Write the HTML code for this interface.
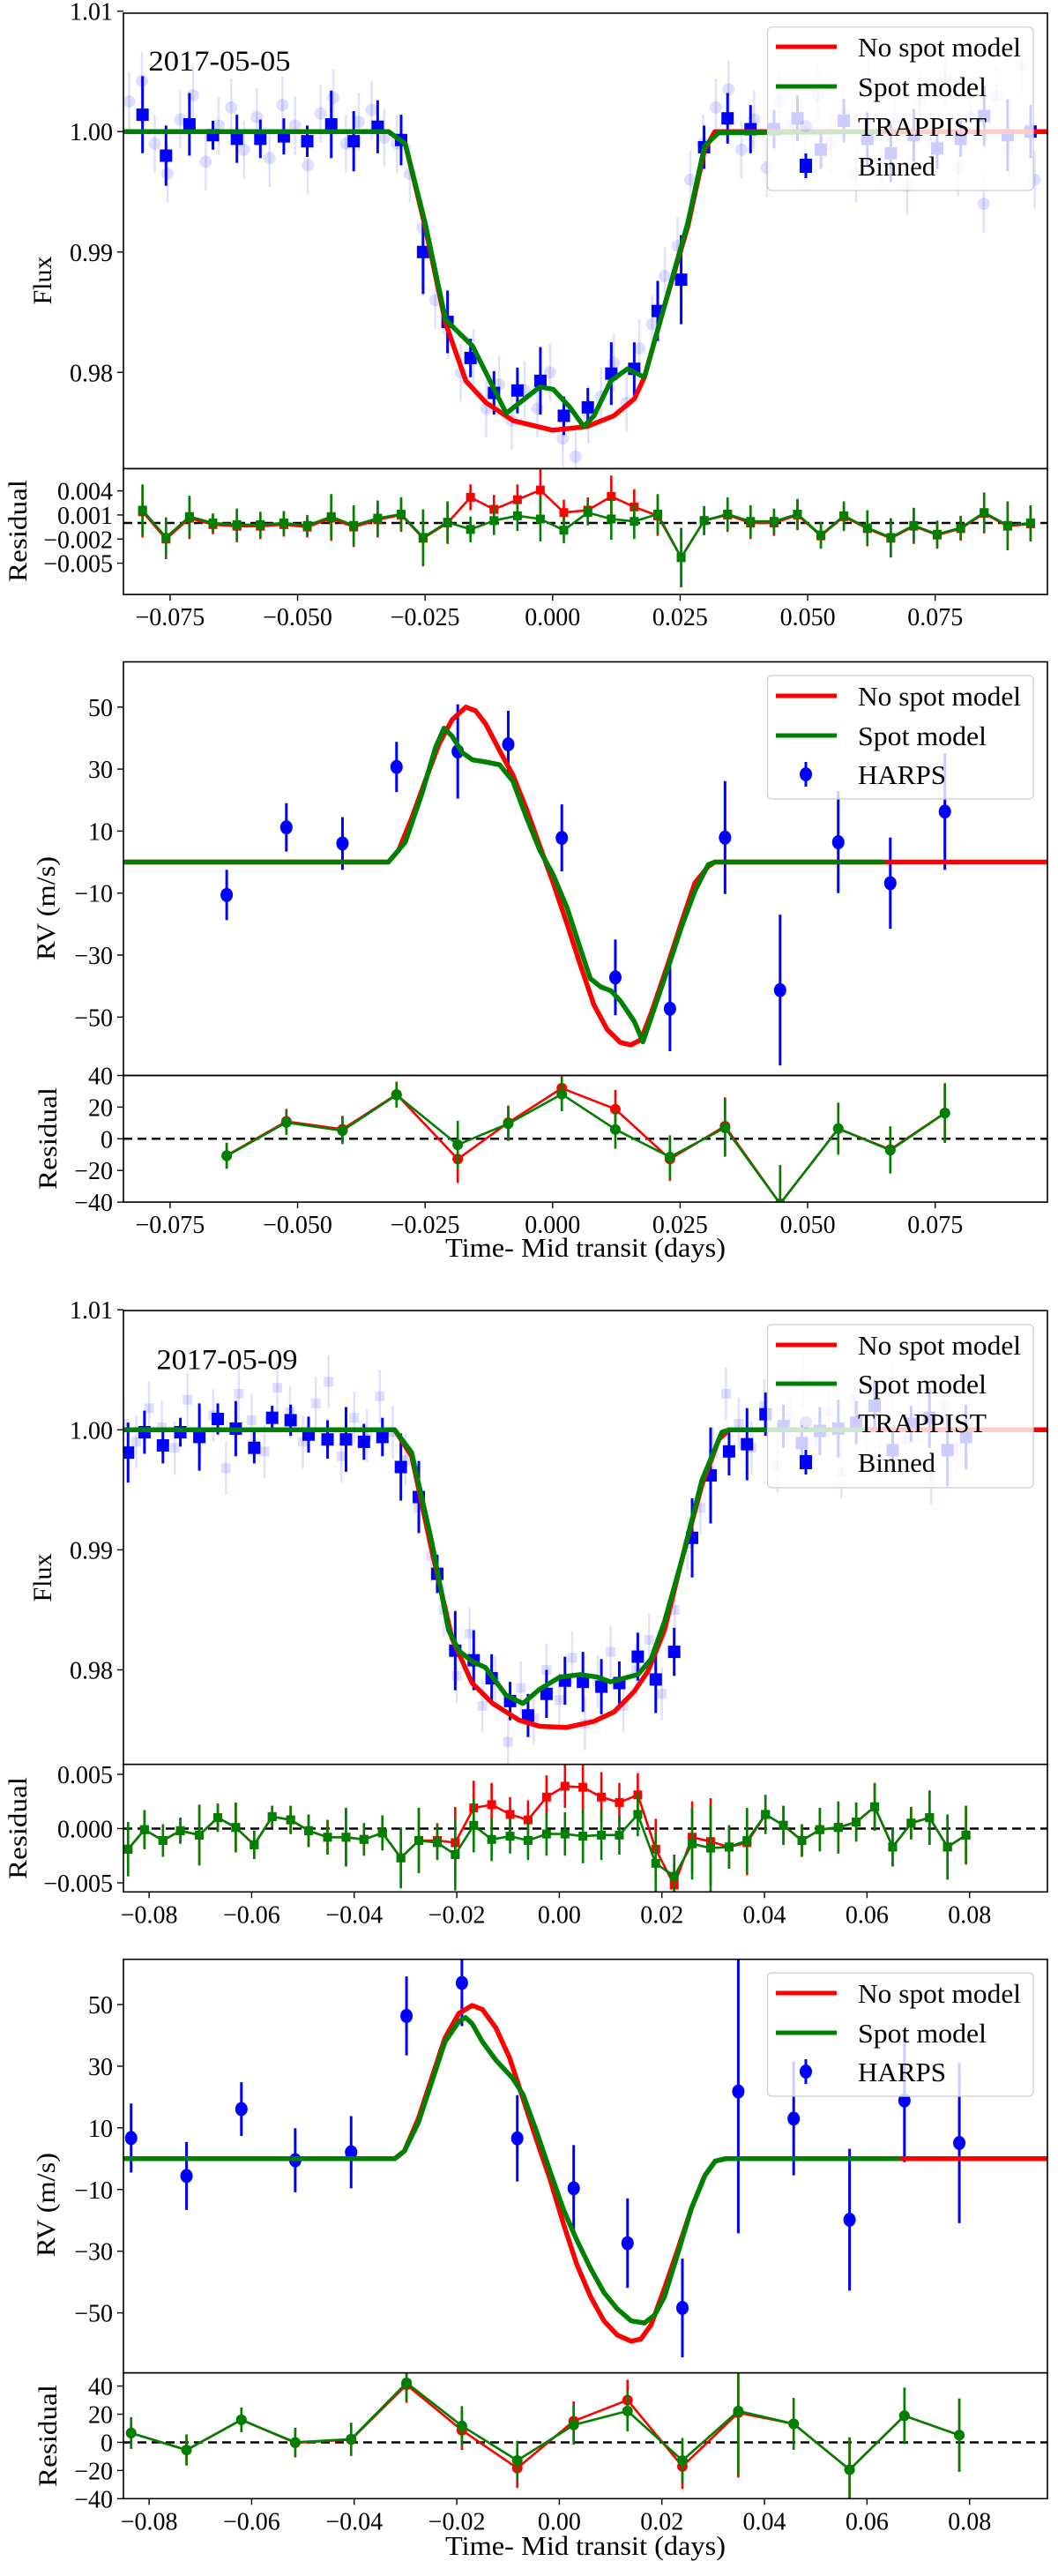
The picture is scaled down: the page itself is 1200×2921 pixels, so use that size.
<!DOCTYPE html>
<html><head><meta charset="utf-8"><title>Spot model fits</title>
<style>
html,body{margin:0;padding:0;background:#fff;}
svg{display:block;font-family:"Liberation Serif","DejaVu Serif",serif;}
</style></head>
<body>
<svg id="fig" xmlns="http://www.w3.org/2000/svg" width="1200" height="2921" viewBox="0 0 1200 2921"></svg>
<script>
// ---------- Panel 1: 2017-05-05 photometry ----------
const p1BinT = [-0.0804,-0.0758,-0.0712,-0.0666,-0.0619,-0.0573,-0.0527,-0.0481,-0.0434,-0.0390,-0.0343,-0.0297,-0.0254,-0.0206,-0.0161,-0.0115,-0.0069,-0.0024,0.0022,0.0069,0.0115,0.0160,0.0206,0.0252,0.0297,0.0343,0.0388,0.0434,0.0480,0.0526,0.0571,0.0617,0.0663,0.0708,0.0754,0.0800,0.0846,0.0892,0.0937];
const p1BinF = [1.0014,0.9980,1.0006,0.9997,0.9994,0.9994,0.9996,0.9992,1.0006,0.9992,1.0004,0.9993,0.9900,0.9842,0.9812,0.9783,0.9785,0.9793,0.9764,0.9771,0.9799,0.9803,0.9851,0.9877,0.9987,1.0011,1.0002,1.0002,1.0011,0.9985,1.0009,0.9994,0.9982,0.9997,0.9986,0.9994,1.0013,0.9997,1.0000];
const p1BinE = [0.0032,0.0025,0.0026,0.0012,0.0020,0.0016,0.0015,0.0013,0.0028,0.0025,0.0022,0.0021,0.0035,0.0026,0.0016,0.0018,0.0019,0.0028,0.0016,0.0016,0.0026,0.0022,0.0025,0.0037,0.0018,0.0021,0.0020,0.0016,0.0019,0.0016,0.0018,0.0022,0.0024,0.0022,0.0017,0.0015,0.0025,0.0030,0.0022];
const p1ResG = [0.0016,-0.0018,0.0008,0.0,-0.0002,-0.0002,0.0,-0.0003,0.0008,-0.0003,0.0006,0.0011,-0.0018,0.0001,-0.0008,0.0003,0.0009,0.0005,-0.0009,0.0013,0.0005,0.0002,0.0011,-0.0043,0.0003,0.0011,0.0002,0.0002,0.0011,-0.0015,0.0009,-0.0006,-0.0018,-0.0003,-0.0014,-0.0006,0.0013,-0.0003,0.0];
const p1ResR = [0.0014,-0.0020,0.0006,-0.0002,-0.0004,-0.0004,-0.0002,-0.0005,0.0006,-0.0005,0.0004,0.0010,-0.0019,0.0000,0.0032,0.0017,0.0029,0.0041,0.0013,0.0016,0.0033,0.0020,0.0009,-0.0043,0.0003,0.0010,0.0000,0.0000,0.0010,-0.0016,0.0008,-0.0007,-0.0019,-0.0004,-0.0015,-0.0007,0.0012,-0.0004,-0.0001];
const p1RawT0 = -0.083, p1RawDt = 0.0025;
const p1RawF = [1.0025,1.0042,0.9990,0.9965,1.0010,1.0030,0.9975,1.0005,1.0020,0.9985,1.0012,0.9978,1.0022,1.0005,0.9972,1.0015,1.0028,0.9990,1.0008,1.0018,0.9995,
 0.9990,0.9965,0.9920,0.9860,0.9835,0.9800,0.9812,0.9770,0.9790,0.9760,0.9785,0.9770,0.9800,0.9745,0.9730,0.9765,0.9780,0.9808,0.9775,0.9820,0.9840,0.9880,0.9905,0.9960,0.9990,1.0020,
 1.0035,0.9985,1.0010,0.9970,1.0025,1.0005,0.9980,1.0030,0.9990,1.0015,0.9965,1.0040,0.9975,1.0010,0.9955,1.0025,0.9990,1.0045,0.9970,1.0012,0.9940,1.0030,0.9985,1.0055,0.9960];
const p1NoSpotT = [-0.0838,-0.0322,-0.0289,-0.0250,-0.0210,-0.0170,-0.0131,-0.0078,0.0,0.0067,0.0120,0.0160,0.0180,0.0219,0.0265,0.0298,0.0318,0.0968];
const p1NoSpotF = [1.0,1.0,0.9990,0.9921,0.9841,0.9793,0.9775,0.9760,0.9752,0.9755,0.9764,0.9778,0.9796,0.9855,0.9921,0.9985,1.0,1.0];
const p1SpotT = [-0.0838,-0.0322,-0.0289,-0.0250,-0.0210,-0.0184,-0.0157,-0.0131,-0.0091,-0.0058,-0.0025,0.0001,0.0034,0.0061,0.0081,0.0114,0.0147,0.0180,0.0219,0.0265,0.0298,0.0325,0.0635];
const p1SpotF = [1.0,1.0,0.9990,0.9924,0.9844,0.9833,0.9822,0.9800,0.9766,0.9777,0.9788,0.9786,0.9771,0.9755,0.9764,0.9793,0.9803,0.9796,0.9855,0.9924,0.9988,0.9999,1.0];

// ---------- Panel 2: 2017-05-05 RV ----------
const p2T = [-0.0639,-0.0522,-0.0412,-0.0306,-0.0186,-0.0087,0.0018,0.0123,0.0230,0.0338,0.0446,0.0560,0.0662,0.0769];
const p2V = [-10.6,11.2,6.0,30.7,35.7,38.0,7.8,-37.2,-47.3,7.9,-41.3,6.4,-6.8,16.3];
const p2E = [8.1,7.8,8.5,8.1,15.2,10.8,10.8,12.2,13.7,18.2,24.3,16.4,14.7,18.8];
const p2ResG = [-10.8,10.3,5.1,27.7,-3.8,9.5,28.2,5.9,-11.5,6.9,-41,6.4,-7.2,16.2];
const p2ResR = [-10.6,11.0,6.0,28.0,-12.8,10.2,32.0,18.7,-12.8,8.0,-41,6.4,-6.8,16.3];
const p2NoSpotT = [-0.0838,-0.0322,-0.0302,-0.0276,-0.0250,-0.0223,-0.0197,-0.0170,-0.0151,-0.0131,-0.0104,-0.0078,-0.0051,-0.0025,0.0001,0.0028,0.0054,0.0081,0.0107,0.0133,0.0153,0.0173,0.0193,0.0226,0.0252,0.0279,0.0305,0.0318,0.0968];
const p2NoSpotV = [0,0,3.8,14.3,26.1,38.0,45.9,50.0,48.8,44.5,36.0,28.1,17.0,5.1,-6.7,-19.8,-33.0,-46.1,-54.0,-58.2,-59.0,-57.3,-48.8,-33.0,-19.8,-6.7,-1.4,0,0];
const p2SpotT = [-0.0838,-0.0322,-0.0289,-0.0256,-0.0230,-0.0213,-0.0197,-0.0177,-0.0157,-0.0131,-0.0104,-0.0078,-0.0051,-0.0025,0.0001,0.0028,0.0054,0.0074,0.0094,0.0114,0.0133,0.0160,0.0177,0.0199,0.0226,0.0252,0.0279,0.0305,0.0318,0.0648];
const p2SpotV = [0,0,6.4,22.2,36.7,43.2,40.6,35.3,33.0,32.3,31.4,26.1,14.3,3.8,-4.1,-14.6,-27.7,-37.6,-40.2,-41.5,-44.8,-51.4,-58.0,-47.4,-34.3,-21.2,-9.3,-0.8,0,0];

// ---------- Panel 3: 2017-05-09 photometry ----------
const p3BinT = [-0.0841,-0.0809,-0.0773,-0.0739,-0.0702,-0.0666,-0.0631,-0.0595,-0.0560,-0.0524,-0.0489,-0.0452,-0.0416,-0.0381,-0.0345,-0.0309,-0.0274,-0.0238,-0.0203,-0.0167,-0.0132,-0.0096,-0.0061,-0.0025,0.0011,0.0046,0.0082,0.0117,0.0153,0.0188,0.0224,0.0259,0.0295,0.0331,0.0366,0.0402,0.0437,0.0473,0.0508,0.0544,0.0579,0.0615,0.0650,0.0686,0.0722,0.0757,0.0793];
const p3BinF = [0.9981,0.9998,0.9987,0.9998,0.9994,1.0009,1.0001,0.9985,1.0010,1.0008,0.9996,0.9992,0.9992,0.9990,0.9994,0.9969,0.9944,0.9880,0.9816,0.9808,0.9793,0.9774,0.9762,0.9780,0.9791,0.9790,0.9786,0.9789,0.9811,0.9792,0.9815,0.9910,0.9962,0.9982,0.9988,1.0013,1.0003,0.9989,0.9999,1.0001,1.0006,1.0020,0.9983,1.0005,1.0010,0.9983,0.9994];
const p3BinE = [0.0025,0.0018,0.0015,0.0012,0.0028,0.0013,0.0023,0.0013,0.0010,0.0013,0.0015,0.0016,0.0027,0.0015,0.0016,0.0028,0.0030,0.0016,0.0033,0.0025,0.0020,0.0016,0.0018,0.0020,0.0020,0.0025,0.0023,0.0018,0.0020,0.0028,0.0020,0.0033,0.0040,0.0020,0.0030,0.0018,0.0018,0.0015,0.0020,0.0024,0.0018,0.0022,0.0018,0.0015,0.0025,0.0030,0.0027];
const p3ResG = [-0.0019,-0.0001,-0.0011,-0.0002,-0.0006,0.0010,0.0001,-0.0015,0.0011,0.0008,-0.0002,-0.0008,-0.0008,-0.0010,-0.0004,-0.0027,-0.0011,-0.0013,-0.0024,0.0003,-0.0010,-0.0007,-0.0011,-0.0005,-0.0005,-0.0007,-0.0006,-0.0006,0.0013,-0.0032,-0.0044,-0.0014,-0.0018,-0.0017,-0.0011,0.0013,0.0003,-0.0011,-0.0001,0.0001,0.0006,0.0020,-0.0017,0.0005,0.0010,-0.0017,-0.0006];
const p3ResR = [-0.0019,-0.0001,-0.0011,-0.0002,-0.0006,0.0010,0.0001,-0.0015,0.0011,0.0008,-0.0002,-0.0008,-0.0008,-0.0010,-0.0004,-0.0027,-0.0011,-0.0011,-0.0013,0.0019,0.0022,0.0013,0.0008,0.0029,0.0039,0.0038,0.0029,0.0024,0.0031,-0.0019,-0.0052,-0.0008,-0.0012,-0.0017,-0.0013,0.0013,0.0003,-0.0011,-0.0001,0.0001,0.0006,0.0020,-0.0017,0.0005,0.0010,-0.0017,-0.0006];
const p3RawT0 = -0.085, p3RawDt = 0.0025;
const p3RawF = [1.0005,0.9990,1.0018,1.0002,0.9985,1.0025,0.9995,1.0012,0.9968,1.0030,1.0008,0.9982,1.0035,1.0015,0.9990,1.0022,1.0040,0.9978,1.0010,0.9995,1.0028,
 0.9998,0.9975,0.9935,0.9895,0.9850,0.9795,0.9830,0.9770,0.9790,0.9740,0.9785,0.9760,0.9800,0.9775,0.9810,0.9755,0.9790,0.9815,0.9770,0.9800,0.9825,0.9780,0.9850,0.9905,0.9935,0.9980,
 1.0030,1.0005,0.9985,1.0020,0.9970,1.0010,1.0040,0.9990,1.0015,0.9965,1.0025,1.0000,0.9978,1.0035,0.9992,1.0012,0.9960,1.0020,0.9985,1.0005];
const p3NoSpotT = [-0.0850,-0.0321,-0.0288,-0.0249,-0.0209,-0.0170,-0.0130,-0.0078,-0.0038,0.0014,0.0067,0.0107,0.0146,0.0173,0.0205,0.0238,0.0278,0.0311,0.0331,0.0954];
const p3NoSpotF = [1.0,1.0,0.9978,0.9900,0.9826,0.9789,0.9772,0.9758,0.9753,0.9752,0.9757,0.9765,0.9782,0.9799,0.9833,0.9890,0.9954,0.9992,1.0,1.0];
const p3SpotT = [-0.0850,-0.0321,-0.0288,-0.0249,-0.0216,-0.0196,-0.0170,-0.0144,-0.0104,-0.0071,-0.0038,0.0001,0.0041,0.0074,0.0100,0.0126,0.0153,0.0179,0.0205,0.0238,0.0278,0.0317,0.0331,0.0594];
const p3SpotF = [1.0,1.0,0.9981,0.9907,0.9833,0.9816,0.9807,0.9802,0.9779,0.9772,0.9784,0.9794,0.9796,0.9794,0.9790,0.9793,0.9796,0.9809,0.9840,0.9890,0.9958,0.9998,1.0,1.0];

// ---------- Panel 4: 2017-05-09 RV ----------
const p4T = [-0.0835,-0.0727,-0.0620,-0.0515,-0.0406,-0.0298,-0.0190,-0.0082,0.0028,0.0133,0.0240,0.0349,0.0457,0.0566,0.0673,0.0780];
const p4V = [6.7,-5.6,16.1,-0.5,2.1,46.3,57.0,6.6,-9.6,-27.4,-48.4,21.8,13.0,-19.8,18.9,5.1];
const p4E = [11.2,11.0,8.7,10.4,11.7,12.8,14.0,14.0,14.0,14.5,16.0,46.0,18.4,23.0,20.0,26.0];
const p4ResG = [6.6,-5.4,16.0,0.0,2.3,42.3,11.7,-12.9,12.3,22.3,-12.9,22.3,13.1,-19.4,18.9,5.1];
const p4ResR = [6.6,-5.4,16.0,-0.3,2.0,40.9,8.6,-18.3,15.1,30.0,-17.1,21.0,13.1,-19.4,18.9,5.1];
const p4NoSpotT = [-0.0850,-0.0321,-0.0302,-0.0275,-0.0249,-0.0223,-0.0196,-0.0170,-0.0150,-0.0124,-0.0097,-0.0071,-0.0045,-0.0018,0.0008,0.0034,0.0061,0.0087,0.0113,0.0140,0.0159,0.0179,0.0205,0.0232,0.0258,0.0284,0.0304,0.0324,0.0954];
const p4NoSpotV = [0,0,2.5,13.0,26.1,39.2,47.1,49.7,48.4,42.5,32.7,19.6,6.4,-6.7,-21.1,-34.3,-44.8,-52.6,-57.2,-59.2,-58.5,-53.9,-42.1,-29.0,-15.9,-5.4,-0.8,0,0];
const p4SpotT = [-0.0850,-0.0321,-0.0302,-0.0275,-0.0249,-0.0223,-0.0196,-0.0183,-0.0170,-0.0150,-0.0124,-0.0091,-0.0071,-0.0045,-0.0018,0.0008,0.0034,0.0061,0.0087,0.0113,0.0140,0.0166,0.0186,0.0205,0.0232,0.0258,0.0284,0.0304,0.0324,0.0660];
const p4SpotV = [0,0,2.5,11.7,24.8,37.9,44.5,45.8,43.8,37.9,32.0,26.1,20.9,9.1,-4.1,-16.5,-26.4,-35.6,-43.4,-48.7,-52.6,-53.3,-50.7,-44.8,-30.3,-15.9,-5.4,-0.8,0,0];

// ---------- tick arrays ----------
const xTicksA = [-0.075,-0.050,-0.025,0.000,0.025,0.050,0.075];
const xTickLabA = ["\u22120.075","\u22120.050","\u22120.025","0.000","0.025","0.050","0.075"];
const xTicksB = [-0.08,-0.06,-0.04,-0.02,0.00,0.02,0.04,0.06,0.08];
const xTickLabB = ["\u22120.08","\u22120.06","\u22120.04","\u22120.02","0.00","0.02","0.04","0.06","0.08"];
const fluxTicks = [1.01,1.00,0.99,0.98];
const fluxTickLab = ["1.01","1.00","0.99","0.98"];
const res1Ticks = [0.004,0.001,-0.002,-0.005];
const res1TickLab = ["0.004","0.001","\u22120.002","\u22120.005"];
const res3Ticks = [0.005,0.000,-0.005];
const res3TickLab = ["0.005","0.000","\u22120.005"];
const rvTicks = [50,30,10,-10,-30,-50];
const rvTickLab = ["50","30","10","\u221210","\u221230","\u221250"];
const rvResTicks = [40,20,0,-20,-40];
const rvResTickLab = ["40","20","0","\u221220","\u221240"];

const NS = "http://www.w3.org/2000/svg";
const svg = document.getElementById('fig');
const L = 140, R = 1188;
const RED = "#ff0000", GREEN = "#008000", BLUE = "#0000ff";
function lin(d0, d1, r0, r1){ return v => r0 + (v - d0) * (r1 - r0) / (d1 - d0); }
function mk(tag, attrs, parent){
  const e = document.createElementNS(NS, tag);
  for (const k in attrs) e.setAttribute(k, attrs[k]);
  (parent || svg).appendChild(e);
  return e;
}
let clipId = 0;
function axesGroup(name, top, bottom){
  const g = mk('g', {});
  
  
  const cp = mk('clipPath', {id: 'c' + (++clipId)}, g);
  mk('rect', {x: L, y: top, width: R - L, height: bottom - top}, cp);
  const inner = mk('g', {'clip-path': 'url(#c' + clipId + ')'}, g);
  
  
  return {g, inner, top, bottom};
}
function frame(ax){
  const r = mk('rect', {x: L, y: ax.top, width: R - L, height: ax.bottom - ax.top, fill: 'none', stroke: '#000', 'stroke-width': 1.6}, ax.g);
  
  
}
function yTicks(ax, vals, labs, ys, name){
  const g = mk('g', {}, ax.g);
  
  
  vals.forEach((v, i) => {
    const y = ys(v);
    mk('line', {x1: L - 7, x2: L, y1: y, y2: y, stroke: '#000', 'stroke-width': 1.4}, g);
    const t = mk('text', {x: L - 12, y: y + 10, 'text-anchor': 'end', 'font-size': 28}, g);
    t.textContent = labs[i];
    
    
  });
}
function xTicks(ax, vals, labs, xs, name){
  const g = mk('g', {}, ax.g);
  
  
  vals.forEach((v, i) => {
    const x = xs(v);
    mk('line', {x1: x, x2: x, y1: ax.bottom, y2: ax.bottom + 7, stroke: '#000', 'stroke-width': 1.4}, g);
    const t = mk('text', {x: x, y: ax.bottom + 35, 'text-anchor': 'middle', 'font-size': 28}, g);
    t.textContent = labs[i];
    
    
  });
}
function label(txt, x, y, rot, size, name, len){
  const a = {x: x, y: y, 'text-anchor': 'middle', 'font-size': size};
  if (rot) a.transform = 'rotate(-90 ' + x + ' ' + y + ')';
  if (len) { a.textLength = len; a.lengthAdjust = 'spacingAndGlyphs'; }
  const t = mk('text', a);
  t.textContent = txt;
  
  
  return t;
}
function polyline(parent, ts, vs, xs, ys, color, w, name){
  const pts = ts.map((t, i) => xs(t).toFixed(1) + ',' + ys(vs[i]).toFixed(1)).join(' ');
  const p = mk('polyline', {points: pts, fill: 'none', stroke: color, 'stroke-width': w, 'stroke-linejoin': 'round', 'stroke-linecap': 'round'}, parent);
  
  
  return p;
}
function errbar(parent, x, y1, y2, color, w){
  mk('line', {x1: x, x2: x, y1: y1, y2: y2, stroke: color, 'stroke-width': w}, parent);
}
function faintPoints(parent, t0, dt, fs, xs, ys, err, shape){
  const g = mk('g', {fill: 'rgba(0,0,255,0.13)', stroke: 'none'}, parent);
  
  
  fs.forEach((f, i) => {
    const x = xs(t0 + i * dt), y = ys(f);
    mk('line', {x1: x, x2: x, y1: ys(f + err), y2: ys(f - err), stroke: 'rgba(0,0,255,0.12)', 'stroke-width': 2.5}, g);
    if (shape === 'circle') mk('circle', {cx: x, cy: y, r: 7}, g);
    else mk('rect', {x: x - 5.5, y: y - 5.5, width: 11, height: 11}, g);
  });
}
function binned(parent, ts, fs, es, xs, ys){
  const g = mk('g', {}, parent);
  
  
  ts.forEach((t, i) => {
    const x = xs(t), y = ys(fs[i]);
    errbar(g, x, ys(fs[i] + es[i]), ys(fs[i] - es[i]), BLUE, 3);
    const r = mk('rect', {x: x - 7, y: y - 7, width: 14, height: 14, fill: BLUE}, g);
    
    
  });
}
function harps(parent, ts, vs, es, xs, ys){
  const g = mk('g', {}, parent);
  
  
  ts.forEach((t, i) => {
    const x = xs(t), y = ys(vs[i]);
    errbar(g, x, ys(vs[i] + es[i]), ys(vs[i] - es[i]), BLUE, 3);
    const c = mk('ellipse', {cx: x, cy: y, rx: 7, ry: 8, fill: BLUE}, g);
    
    
  });
}
function residuals(parent, ts, res, es, xs, ys, color, marker, name){
  const g = mk('g', {}, parent);
  
  
  ts.forEach((t, i) => errbar(g, xs(t), ys(res[i] + es[i]), ys(res[i] - es[i]), color, 2.6));
  polyline(g, ts, res, xs, ys, color, 2.6, name + '-line');
  ts.forEach((t, i) => {
    const x = xs(t), y = ys(res[i]);
    let m;
    if (marker === 'circle') m = mk('circle', {cx: x, cy: y, r: 6, fill: color}, g);
    else m = mk('rect', {x: x - 5, y: y - 5, width: 10, height: 10, fill: color}, g);
    
    
  });
}
function zeroLine(parent, ys){
  const l = mk('line', {x1: L, x2: R, y1: ys(0), y2: ys(0), stroke: '#000', 'stroke-width': 2.5, 'stroke-dasharray': '10,6'}, parent);
  
  
}
function legend(top, bottom, entries){
  const g = mk('g', {});
  
  
  mk('rect', {x: 870.5, y: top, width: 301.5, height: bottom - top, rx: 5, fill: 'rgba(255,255,255,0.8)', stroke: '#cccccc', 'stroke-width': 1.2}, g);
  entries.forEach(e => {
    const eg = mk('g', {}, g);
    
    
    if (e.kind === 'line') mk('line', {x1: 880, x2: 949, y1: e.y, y2: e.y, stroke: e.color, 'stroke-width': 5}, eg);
    else if (e.kind === 'sq') { errbar(eg, 914, e.y - 14, e.y + 14, BLUE, 3); mk('rect', {x: 907, y: e.y - 8, width: 14, height: 16, fill: BLUE}, eg); }
    else if (e.kind === 'circ') { errbar(eg, 914, e.y - 14, e.y + 14, BLUE, 3); mk('ellipse', {cx: 914, cy: e.y, rx: 7, ry: 8, fill: BLUE}, eg); }
    else if (e.kind === 'faint') { mk('circle', {cx: 914, cy: e.y, r: 7, fill: 'rgba(0,0,255,0.1)'}, eg); }
    const a = {x: 973, y: e.y + 11, 'font-size': 31};
    if (e.len) { a.textLength = e.len; a.lengthAdjust = 'spacingAndGlyphs'; }
    const t = mk('text', a, eg);
    t.textContent = e.text;
  });
}

// ===== Panel 1 =====
const x1 = lin(0, 0.075, 626.8, 1060.7);
const y1 = lin(1.0, 0.98, 149.2, 422.3);
const r1 = lin(0.004, -0.005, 556.6, 638.6);
const a1 = axesGroup('flux-panel-2017-05-05', 14.9, 531.4);
faintPoints(a1.inner, p1RawT0, p1RawDt, p1RawF, x1, y1, 0.0024, 'circle');
binned(a1.inner, p1BinT, p1BinF, p1BinE, x1, y1);
polyline(a1.inner, p1NoSpotT, p1NoSpotF, x1, y1, RED, 5.5, 'no-spot-model-line');
polyline(a1.inner, p1SpotT, p1SpotF, x1, y1, GREEN, 5.5, 'spot-model-line');
frame(a1);
yTicks(a1, fluxTicks, fluxTickLab, y1, 'flux-y-ticks');
const d1 = label('2017-05-05', 249, 80, false, 33, 'date-label', 161);
const b1 = axesGroup('residual-panel-2017-05-05', 531.4, 674.1);
zeroLine(b1.inner, r1);
residuals(b1.inner, p1BinT, p1ResR, p1BinE, x1, r1, RED, 'square', 'no-spot-residuals');
residuals(b1.inner, p1BinT, p1ResG, p1BinE, x1, r1, GREEN, 'square', 'spot-residuals');
frame(b1);
yTicks(b1, res1Ticks, res1TickLab, r1, 'residual-y-ticks');
xTicks(b1, xTicksA, xTickLabA, x1, 'x-ticks');
label('Flux', 58, 318, true, 30, 'y-axis-title');
label('Residual', 30, 602, true, 30, 'y-axis-title', 116);
legend(30.7, 216, [
  {kind: 'line', color: RED, y: 53, text: 'No spot model', len: 185},
  {kind: 'line', color: GREEN, y: 98, text: 'Spot model', len: 146},
  {kind: 'faint', y: 143, text: 'TRAPPIST', len: 146},
  {kind: 'sq', y: 188, text: 'Binned', len: 88}
]);

// ===== Panel 2 =====
const y2 = lin(50, -50, 801.8, 1153.3);
const r2 = lin(40, -40, 1219.5, 1363.1);
const a2 = axesGroup('rv-panel-2017-05-05', 750.5, 1219.5);
harps(a2.inner, p2T, p2V, p2E, x1, y2);
polyline(a2.inner, p2NoSpotT, p2NoSpotV, x1, y2, RED, 5.5, 'no-spot-model-line');
polyline(a2.inner, p2SpotT, p2SpotV, x1, y2, GREEN, 5.5, 'spot-model-line');
frame(a2);
yTicks(a2, rvTicks, rvTickLab, y2, 'rv-y-ticks');
const b2 = axesGroup('rv-residual-panel-2017-05-05', 1219.5, 1363.1);
zeroLine(b2.inner, r2);
residuals(b2.inner, p2T, p2ResR, p2E, x1, r2, RED, 'circle', 'no-spot-residuals');
residuals(b2.inner, p2T, p2ResG, p2E, x1, r2, GREEN, 'circle', 'spot-residuals');
frame(b2);
yTicks(b2, rvResTicks, rvResTickLab, r2, 'residual-y-ticks');
xTicks(b2, xTicksA, xTickLabA, x1, 'x-ticks');
label('RV (m/s)', 62, 1030, true, 30, 'y-axis-title', 118);
label('Residual', 64, 1291, true, 30, 'y-axis-title', 116);
label('Time- Mid transit (days)', 664, 1425, false, 31, 'x-axis-title', 318);
legend(766, 906, [
  {kind: 'line', color: RED, y: 789, text: 'No spot model', len: 185},
  {kind: 'line', color: GREEN, y: 834, text: 'Spot model', len: 146},
  {kind: 'circ', y: 878, text: 'HARPS', len: 100}
]);

// ===== Panel 3 =====
const x3 = lin(0, 0.08, 634.4, 1099.7);
const y3 = lin(1.0, 0.98, 1621.3, 1893.5);
const r3 = lin(0.005, -0.005, 2011.9, 2135);
const a3 = axesGroup('flux-panel-2017-05-09', 1486.1, 2000.7);
faintPoints(a3.inner, p3RawT0, p3RawDt, p3RawF, x3, y3, 0.0022, 'square');
binned(a3.inner, p3BinT, p3BinF, p3BinE, x3, y3);
polyline(a3.inner, p3NoSpotT, p3NoSpotF, x3, y3, RED, 5.5, 'no-spot-model-line');
polyline(a3.inner, p3SpotT, p3SpotF, x3, y3, GREEN, 5.5, 'spot-model-line');
frame(a3);
yTicks(a3, fluxTicks, fluxTickLab, y3, 'flux-y-ticks');
label('2017-05-09', 257.5, 1552.7, false, 33, 'date-label', 160);
const b3 = axesGroup('residual-panel-2017-05-09', 2000.7, 2145.3);
zeroLine(b3.inner, r3);
residuals(b3.inner, p3BinT, p3ResR, p3BinE, x3, r3, RED, 'square', 'no-spot-residuals');
residuals(b3.inner, p3BinT, p3ResG, p3BinE, x3, r3, GREEN, 'square', 'spot-residuals');
frame(b3);
yTicks(b3, res3Ticks, res3TickLab, r3, 'residual-y-ticks');
xTicks(b3, xTicksB, xTickLabB, x3, 'x-ticks');
label('Flux', 58, 1789, true, 30, 'y-axis-title');
label('Residual', 30, 2073, true, 30, 'y-axis-title', 116);
legend(1502, 1687, [
  {kind: 'line', color: RED, y: 1525, text: 'No spot model', len: 185},
  {kind: 'line', color: GREEN, y: 1569, text: 'Spot model', len: 146},
  {kind: 'faint', y: 1613, text: 'TRAPPIST', len: 146},
  {kind: 'sq', y: 1658, text: 'Binned', len: 88}
]);

// ===== Panel 4 =====
const y4 = lin(50, -50, 2273, 2622.6);
const r4 = lin(40, -40, 2705.6, 2833.3);
const a4 = axesGroup('rv-panel-2017-05-09', 2221.7, 2690.7);
harps(a4.inner, p4T, p4V, p4E, x3, y4);
polyline(a4.inner, p4NoSpotT, p4NoSpotV, x3, y4, RED, 5.5, 'no-spot-model-line');
polyline(a4.inner, p4SpotT, p4SpotV, x3, y4, GREEN, 5.5, 'spot-model-line');
frame(a4);
yTicks(a4, rvTicks, rvTickLab, y4, 'rv-y-ticks');
const b4 = axesGroup('rv-residual-panel-2017-05-09', 2690.7, 2833.3);
zeroLine(b4.inner, r4);
residuals(b4.inner, p4T, p4ResR, p4E, x3, r4, RED, 'circle', 'no-spot-residuals');
residuals(b4.inner, p4T, p4ResG, p4E, x3, r4, GREEN, 'circle', 'spot-residuals');
frame(b4);
yTicks(b4, rvResTicks, rvResTickLab, r4, 'residual-y-ticks');
xTicks(b4, xTicksB, xTickLabB, x3, 'x-ticks');
label('RV (m/s)', 62, 2500, true, 30, 'y-axis-title', 118);
label('Residual', 64, 2762, true, 30, 'y-axis-title', 116);
label('Time- Mid transit (days)', 664, 2897, false, 31, 'x-axis-title', 318);
legend(2237, 2377, [
  {kind: 'line', color: RED, y: 2260, text: 'No spot model', len: 185},
  {kind: 'line', color: GREEN, y: 2305, text: 'Spot model', len: 146},
  {kind: 'circ', y: 2349, text: 'HARPS', len: 100}
]);
</script>
</body></html>
